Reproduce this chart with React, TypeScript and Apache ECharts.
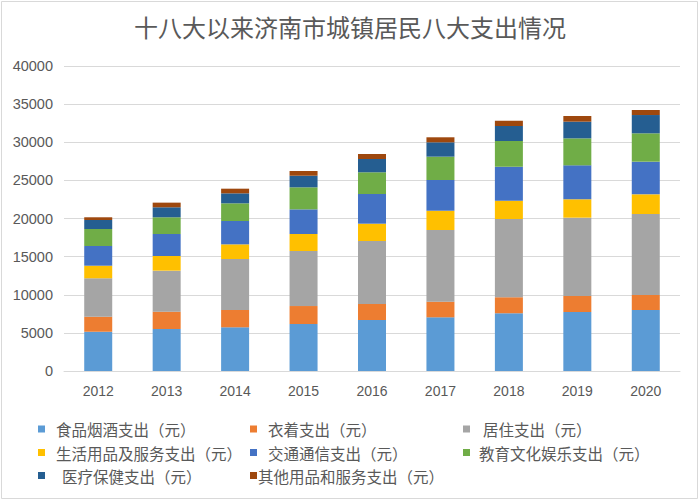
import React, { useEffect, useRef } from "react";
import * as echarts from "echarts";

const years = ["2012", "2013", "2014", "2015", "2016", "2017", "2018", "2019", "2020"];
const seriesNames = [
  "食品烟酒支出（元）",
  "衣着支出（元）",
  "居住支出（元）",
  "生活用品及服务支出（元）",
  "交通通信支出（元）",
  "教育文化娱乐支出（元）",
  "医疗保健支出（元）",
  "其他用品和服务支出（元）",
];
const food = [5150, 5510, 5730, 6160, 6690, 7040, 7570, 7740, 8000];
const clothing = [1970, 2270, 2270, 2360, 2100, 2050, 2100, 2100, 1970];
const housing = [5040, 5380, 6690, 7220, 8260, 9400, 10260, 10270, 10620];
const daily = [1650, 1920, 1920, 2230, 2270, 2530, 2410, 2410, 2580];
const transport = [2580, 2890, 3060, 3230, 3890, 4030, 4460, 4450, 4280];
const education = [2230, 2190, 2320, 2890, 2850, 3060, 3360, 3540, 3720];
const medical = [1180, 1310, 1310, 1520, 1740, 1880, 1970, 2190, 2400];
const other = [360, 610, 610, 620, 660, 660, 700, 740, 660];
const yTicks = { min: 0, max: 40000, interval: 5000 };

const colors = ["#5B9BD5", "#ED7D31", "#A5A5A5", "#FFC000", "#4472C4", "#70AD47", "#255E91", "#9E480E"];
const allData = [food, clothing, housing, daily, transport, education, medical, other];

const CJK = "'Noto Sans CJK SC', sans-serif";
const NUM = "'Liberation Sans', 'Noto Sans', sans-serif";

export default function App() {
  const ref = useRef<HTMLDivElement>(null);
  useEffect(() => {
    const chart = echarts.init(ref.current!, null, { renderer: "svg" });
    // [left, centerY, extra text padding]
    const legendPos = [
      [38, 429, 6], [250, 429, 6], [463, 429, 8],
      [38, 452.5, 6], [250, 452.5, 6], [463, 452.5, 4],
      [38, 475.5, 12], [250, 475.5, -4],
    ];
    chart.setOption({
      animation: false,
      backgroundColor: "#fff",
      textStyle: { fontFamily: CJK },
      title: {
        text: "十八大以来济南市城镇居民八大支出情况",
        left: "center",
        top: 9,
        textStyle: { fontSize: 24, fontWeight: "normal", color: "#595959", fontFamily: CJK },
      },
      graphic: [
        {
          type: "rect",
          shape: { x: 1.5, y: 1.5, width: 696, height: 497 },
          style: { fill: "none", stroke: "#d9d9d9", lineWidth: 1 },
          silent: true,
        },
      ],
      legend: seriesNames.map((n, i) => ({
        data: [n],
        left: legendPos[i][0],
        top: legendPos[i][1] - 10,
        itemWidth: 7,
        itemHeight: 7,
        icon: "rect",
        itemGap: 5,
        padding: 0,
        textStyle: {
          fontSize: 15.5,
          color: "#595959",
          fontFamily: CJK,
          padding: [0, 0, 0, legendPos[i][2]],
          lineHeight: 20,
        },
        selectedMode: false,
      })),
      grid: { left: 64, right: 20, top: 66, bottom: 130 },
      xAxis: {
        type: "category",
        data: years,
        axisLine: { lineStyle: { color: "#d9d9d9" } },
        axisTick: { show: false },
        axisLabel: { color: "#595959", fontSize: 14, margin: 13, fontFamily: NUM },
      },
      yAxis: {
        type: "value",
        min: yTicks.min,
        max: yTicks.max,
        interval: yTicks.interval,
        axisLine: { show: false },
        axisTick: { show: false },
        axisLabel: {
          color: "#595959",
          fontSize: 14.5,
          margin: 11,
          fontFamily: NUM,
          formatter: (v: number) => String(v),
        },
        splitLine: { lineStyle: { color: "#d9d9d9" } },
      },
      series: seriesNames.map((n, i) => ({
        name: n,
        type: "bar",
        stack: "total",
        data: allData[i],
        barWidth: 28,
        itemStyle: { color: colors[i] },
      })),
    });
    return () => chart.dispose();
  }, []);
  return (
    <div style={{ position: "fixed", left: 0, top: 0, width: 700, height: 501, background: "#fff" }}>
      <div ref={ref} style={{ width: 700, height: 501 }} />
    </div>
  );
}
